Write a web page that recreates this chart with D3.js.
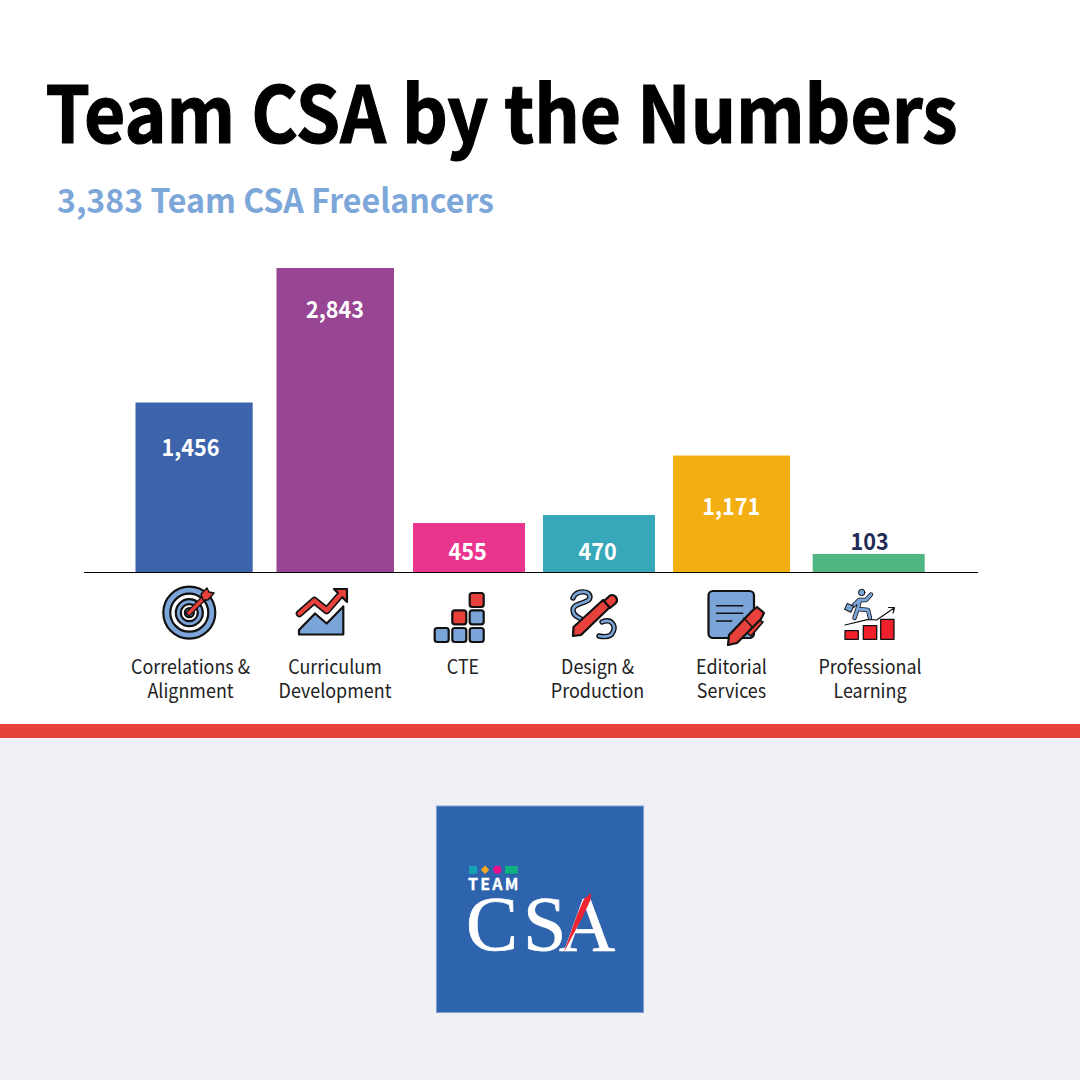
<!DOCTYPE html>
<html>
<head>
<meta charset="utf-8">
<script src="https://cdn.jsdelivr.net/npm/d3@7/dist/d3.min.js"></script>
<style>
html,body{margin:0;padding:0;background:#fff}
svg{display:block}
text{font-family:"Noto Sans CJK JP","Noto Sans CJK SC","Noto Sans",sans-serif}
</style>
</head>
<body>
<svg id="c" width="1080" height="1080" viewBox="0 0 1080 1080"></svg>
<script>
// ---- data ----
const categories = ["Correlations & Alignment","Curriculum Development","CTE","Design & Production","Editorial Services","Professional Learning"];
const categoryLines = [["Correlations &","Alignment"],["Curriculum","Development"],["CTE"],["Design &","Production"],["Editorial","Services"],["Professional","Learning"]];
// the numbers printed on the bars
const printedValues = [1456,2843,455,470,1171,103];
// the bars as drawn in the picture: their heights are not proportional to the printed numbers
const drawnValues = [1587,2843,462,537,1092,173];
const barColors = ["#3d64aa","#984593","#ea358f","#36a8ba","#f3ae11","#4fb583"];
const labelColors = ["#fff","#fff","#fff","#fff","#fff","#1d2b55"];

// ---- layout ----
const barLeft = [135.5,276.5,413,543,673,812.7];
const barRight = [252.7,394,525,655,790,924.7];
const valueCenter = [190.5,335,467.7,597.7,731.3,869.7];
const valueBaseline = [455.7,317.7,559.5,560,515,550];
const catCenter = [190.5,335,463,597.5,731.5,870];
const narrow = 0.92;

const svg = d3.select("#c");
const left = d3.scaleOrdinal(categories, barLeft);
const right = d3.scaleOrdinal(categories, barRight);
const vx = d3.scaleOrdinal(categories, valueCenter);
const vy = d3.scaleOrdinal(categories, valueBaseline);
const cx = d3.scaleOrdinal(categories, catCenter);
const color = d3.scaleOrdinal(categories, barColors);
const y = d3.scaleLinear().domain([0,2843]).range([572.5,268]);
const fmt = d3.format(",");

// backgrounds
svg.append("rect").attr("width",1080).attr("height",1080).attr("fill","#fff");
svg.append("rect").attr("y",738).attr("width",1080).attr("height",342).attr("fill","#eff0f5");
svg.append("rect").attr("y",724).attr("width",1080).attr("height",14).attr("fill","#e8403a");

// titles
svg.append("text").attr("x",45.5).attr("y",143).attr("font-size",78).attr("font-weight",700).attr("fill","#000").attr("stroke","#000").attr("stroke-width",1.2).attr("textLength",912).attr("lengthAdjust","spacingAndGlyphs").text("Team CSA by the Numbers");
svg.append("text").attr("x",57).attr("y",212.5).attr("font-size",33).attr("font-weight",700).attr("fill","#7da7d9").attr("textLength",437).attr("lengthAdjust","spacingAndGlyphs").text("3,383 Team CSA Freelancers");

// bars
const rows = categories.map((c,i)=>({c,drawn:drawnValues[i],printed:printedValues[i],col:labelColors[i],lines:categoryLines[i]}));
svg.selectAll("rect.bar").data(rows).join("rect").attr("class","bar")
  .attr("x",d=>left(d.c)).attr("width",d=>right(d.c)-left(d.c))
  .attr("y",d=>y(d.drawn)).attr("height",d=>y(0)-y(d.drawn)).attr("fill",d=>color(d.c));
svg.append("line").attr("x1",84).attr("x2",978).attr("y1",572.5).attr("y2",572.5).attr("stroke","#000").attr("stroke-width",1);

svg.selectAll("text.val").data(rows).join("text").attr("class","val")
  .attr("transform",d=>`translate(${vx(d.c)},${vy(d.c)}) scale(${narrow},1)`).attr("text-anchor","middle")
  .attr("font-size",23.5).attr("font-weight",700).attr("fill",d=>d.col).text(d=>fmt(d.printed));

const catRows = rows.flatMap(d=>d.lines.map((l,i)=>({l,i,x:cx(d.c)})));
svg.selectAll("text.cat").data(catRows).join("text").attr("class","cat")
  .attr("transform",d=>`translate(${d.x},${673.5+d.i*24}) scale(${narrow},1)`)
  .attr("text-anchor","middle").attr("font-size",19.5).attr("fill","#222").text(d=>d.l);

// ---- icons ----
const K="#111", B="#7ba4d8", R="#e8403a", W=2.2;
const ic = svg.append("g").attr("class","icons").attr("stroke-linejoin","round").attr("stroke-linecap","round");

// target
[[26,B],[19,"#fff"],[13.5,B],[8.5,"#fff"],[4.5,B]].forEach(([r,f])=>ic.append("circle").attr("cx",189.3).attr("cy",612.7).attr("r",r).attr("fill",f).attr("stroke",K).attr("stroke-width",W));
ic.append("path").attr("d","M189 613L206 596").attr("stroke",K).attr("stroke-width",6).attr("fill","none");
ic.append("path").attr("d","M189 613L206 596").attr("stroke",R).attr("stroke-width",3.4).attr("fill","none");
ic.append("path").attr("d","M201 594L207 588L209 592L214 593L208 600L203 600Z").attr("fill",R).attr("stroke",K).attr("stroke-width",1.4);

// growth chart
ic.append("path").attr("d","M299 634.5V630L315 613.5L326.7 623.5L343.3 606.5V634.5Z").attr("fill",B).attr("stroke",K).attr("stroke-width",W);
ic.append("path").attr("d","M299.5 613.5L314.3 600.5L326.7 610.5L342 593").attr("fill","none").attr("stroke",K).attr("stroke-width",7.5);
ic.append("path").attr("d","M334 589H347V602Z").attr("fill",R).attr("stroke",K).attr("stroke-width",W);
ic.append("path").attr("d","M299.5 613.5L314.3 600.5L326.7 610.5L342 593").attr("fill","none").attr("stroke",R).attr("stroke-width",4.2);

// CTE blocks
[[476.7,600,R],[459.3,617.3,R],[476.7,617.3,B],[441.7,635,B],[459.3,635,B],[476.7,635,B]].forEach(([x,yy,f])=>ic.append("rect").attr("x",x-7).attr("y",yy-7).attr("width",14).attr("height",14).attr("rx",2.5).attr("fill",f).attr("stroke",K).attr("stroke-width",W));

// pencil
["M573 598C576 590 590 590 590 597C590 604 573 602 573 610C573 617 580 617 584 621","M602 622C612 618 616 626 613 632C611 637 604 637 599 636"].forEach(d=>{
  ic.append("path").attr("d",d).attr("fill","none").attr("stroke",K).attr("stroke-width",5.4);
  ic.append("path").attr("d",d).attr("fill","none").attr("stroke",B).attr("stroke-width",2.6);
});
ic.append("path").attr("d","M573 636L573.5 627L603 600L610 607L581 635Z").attr("fill",R).attr("stroke",K).attr("stroke-width",W);
ic.append("path").attr("d","M604 601L610 595.5Q613 594 616 597Q618 600 616 603L610 608Z").attr("fill",R).attr("stroke",K).attr("stroke-width",W);

// document and pen
ic.append("rect").attr("x",708.5).attr("y",591).attr("width",45.5).attr("height",47).attr("rx",4.5).attr("fill",B).attr("stroke",K).attr("stroke-width",W);
["M716.7 605.7H742.7","M716.7 613.3H742.7","M716.7 621H731.7"].forEach(d=>ic.append("path").attr("d",d).attr("stroke",K).attr("stroke-width",1.6));
ic.append("path").attr("d","M755 618L763 622L751 636L746 632").attr("fill",R).attr("stroke",K).attr("stroke-width",1.6);
ic.append("path").attr("d","M728 645L729 635L752 611L757 607L764 613L761 619L737 643Z").attr("fill",R).attr("stroke",K).attr("stroke-width",W);
ic.append("path").attr("d","M744 618L753 628").attr("stroke",K).attr("stroke-width",1.6);

// runner and rising bars
[[845,630.7,13.3,8.6],[863.3,625.7,13.4,13.6],[880.7,619.3,13.3,20]].forEach(([x,yy,w,h])=>ic.append("rect").attr("x",x).attr("y",yy).attr("width",w).attr("height",h).attr("fill","#f0202c").attr("stroke",K).attr("stroke-width",1.3));
ic.append("path").attr("d","M845 625L868.3 619.3L876.7 620L894 608M888.5 607.5L894.5 607.5L893 613").attr("fill","none").attr("stroke",K).attr("stroke-width",1.2);
ic.append("circle").attr("cx",861.7).attr("cy",592.5).attr("r",3.2).attr("fill",B).attr("stroke",K).attr("stroke-width",1);
["M860 600L857.5 609L868 610L870 618M857.5 609L854.5 618M860 600L866 600L871 594.5M859 600L853 606"].forEach(d=>{
  ic.append("path").attr("d",d).attr("fill","none").attr("stroke",K).attr("stroke-width",4.4);
  ic.append("path").attr("d",d).attr("fill","none").attr("stroke",B).attr("stroke-width",2.8);
});
ic.append("rect").attr("x",845.5).attr("y",604.5).attr("width",7).attr("height",6.5).attr("transform","rotate(25 849 608)").attr("fill",B).attr("stroke",K).attr("stroke-width",1);

// ---- logo ----
const logo = svg.append("g").attr("class","logo");
logo.append("rect").attr("x",436.5).attr("y",806).attr("width",207).attr("height",206.5).attr("fill","#2e63ad").attr("stroke","#7f9fd0").attr("stroke-width",1);
logo.append("rect").attr("x",469).attr("y",866).attr("width",8).attr("height",7.7).attr("fill","#12a3b5");
logo.append("rect").attr("x",482).attr("y",866.7).attr("width",6).attr("height",6).attr("transform","rotate(45 485 869.7)").attr("fill","#f7a81b");
logo.append("circle").attr("cx",497.3).attr("cy",869.7).attr("r",4).attr("fill","#ec0f8c");
logo.append("rect").attr("x",505).attr("y",866).attr("width",12.7).attr("height",7.7).attr("fill","#0db27e");
logo.append("text").attr("x",468).attr("y",890).attr("font-size",16).attr("font-weight",700).attr("fill","#fff").attr("stroke","#fff").attr("stroke-width",0.3).attr("textLength",50.5).attr("lengthAdjust","spacing").text("TEAM");
logo.append("text").attr("x","466 523 559").attr("y",950).attr("style","font-family:'Liberation Serif',serif").attr("font-size",78).attr("fill","#fff").attr("stroke","#fff").attr("stroke-width",0.7).text("CSA");
logo.append("path").attr("d","M563.5 953L577 915L584 899L591 893L590.5 900L583 916Z").attr("fill","#ed2432");
</script>
</body>
</html>
